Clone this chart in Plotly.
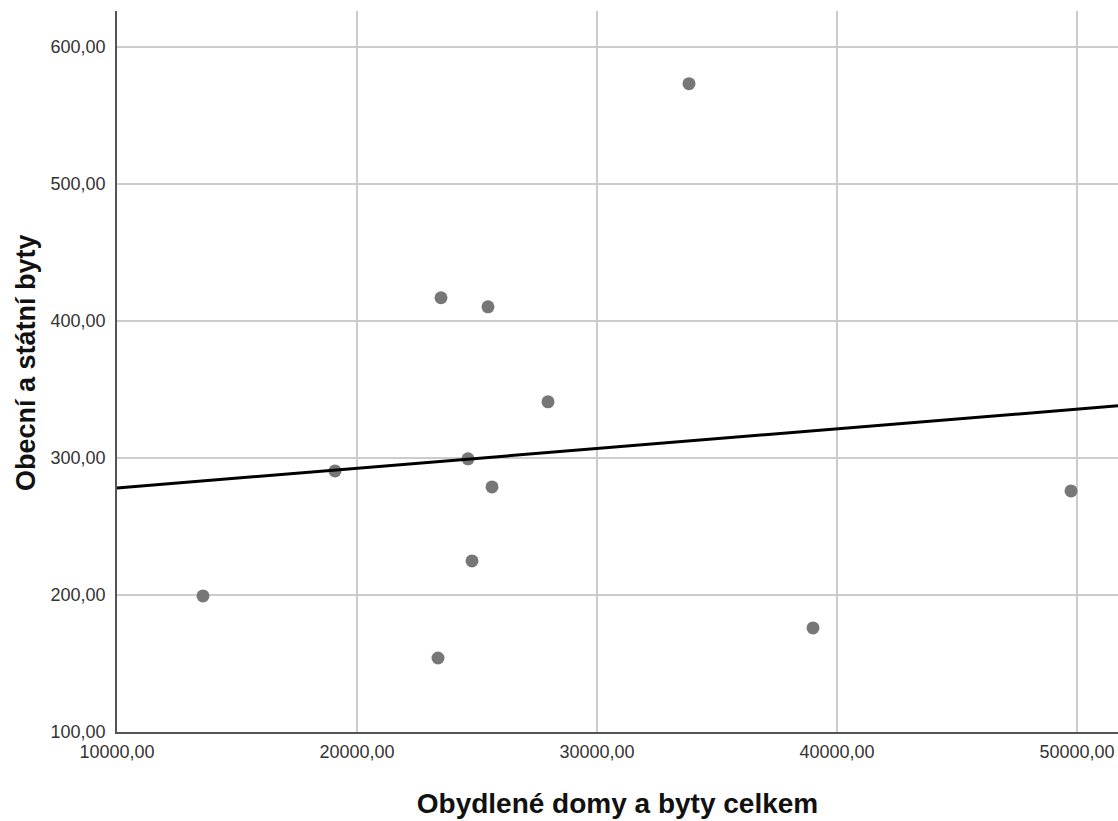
import numpy as np
import plotly.graph_objects as go

# Data
obydlene_domy = [13583, 19083, 23500, 23375, 24625, 24792, 25458, 25625, 27958, 33833, 39000, 49750]
obecni_byty = [199.3, 290.5, 416.8, 154.0, 299.3, 224.8, 410.2, 278.8, 340.9, 573.0, 175.9, 275.9]

x_ticks = [10000, 20000, 30000, 40000, 50000]
y_ticks = [100, 200, 300, 400, 500, 600]
x_range = [10000, 51708]
y_range = [100, 626]

x_title = "Obydlené domy a byty celkem"
y_title = "Obecní a státní byty"

# Linear fit (total line)
slope, intercept = np.polyfit(obydlene_domy, obecni_byty, 1)
fit_x = np.array(x_range, dtype=float)
fit_y = slope * fit_x + intercept

fig = go.Figure()
fig.add_trace(go.Scatter(
    x=obydlene_domy, y=obecni_byty, mode="markers",
    marker=dict(size=13, color="#777777", line=dict(width=0)),
    showlegend=False, hoverinfo="x+y", cliponaxis=False,
))
fig.add_trace(go.Scatter(
    x=fit_x, y=fit_y, mode="lines",
    line=dict(color="black", width=3),
    showlegend=False,
))

tick_font = dict(family="Liberation Sans, Arial, sans-serif", size=18, color="#333333")

fig.update_layout(
    width=1118, height=821,
    margin=dict(l=117, r=0, t=11, b=89),
    paper_bgcolor="white", plot_bgcolor="white",
    separators=", ",
    xaxis=dict(
        range=x_range, tickvals=x_ticks, tickformat=".2f",
        showgrid=True, gridcolor="#cccccc", gridwidth=1.5,
        showline=True, linecolor="#555555", linewidth=1.5,
        zeroline=False, ticks="", tickfont=tick_font, ticklabelstandoff=3,
        title=dict(text="<b>" + x_title + "</b>",
                   font=dict(family="Liberation Sans, Arial, sans-serif", size=28, color="#111111"),
                   standoff=32),
    ),
    yaxis=dict(
        range=y_range, tickvals=y_ticks, tickformat=".2f",
        showgrid=True, gridcolor="#cccccc", gridwidth=1.5,
        showline=True, linecolor="#555555", linewidth=1.5,
        zeroline=False, ticks="", tickfont=tick_font, ticklabelstandoff=6,
    ),
    annotations=[dict(
        text="<b>" + y_title + "</b>", textangle=-90,
        xref="paper", yref="paper", x=-0.091, y=0.513,
        xanchor="center", yanchor="middle", showarrow=False,
        font=dict(family="Liberation Sans, Arial, sans-serif", size=27, color="#111111"),
    )],
)

fig.write_html("out.html")
